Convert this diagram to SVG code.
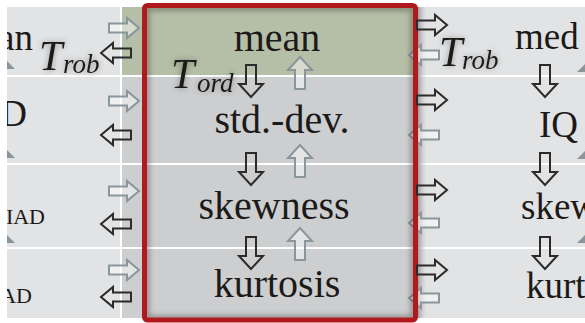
<svg xmlns="http://www.w3.org/2000/svg" xmlns:xlink="http://www.w3.org/1999/xlink" width="585" height="323" viewBox="0 0 585 323">
<style>
.t{font-family:"Liberation Serif","Times New Roman",serif;fill:#1c1a18}
.c{font-size:40px;text-anchor:middle}
.side{font-size:37px}
.sm{font-size:22px}
.it{font-style:italic}
.dk{fill:none;stroke:#2b2b2b;stroke-width:2;stroke-linejoin:miter}
.gy{fill:rgba(255,255,255,0.45);stroke:#8b959c;stroke-width:2;stroke-linejoin:miter}
.pl{fill:#e2e3e5}
.pg{fill:#cdced0}
.pgr{fill:#b5bea6}
.tri{fill:#8b959c}
</style>
<defs>
<path id="aR" d="M0,-4.5 H18 V-10 L30,0 L18,10 V4.5 H0 Z"/>
<path id="aL" d="M30,-4.5 H12 V-10 L0,0 L12,10 V4.5 H30 Z"/>
<path id="aD" d="M-5,0 H5 V19 H12 L0,32 L-12,19 H-5 Z"/>
<path id="aU" d="M-5,32 H5 V13 H12 L0,0 L-12,13 H-5 Z"/>
<clipPath id="leftClip"><rect x="7" y="0" width="113" height="323"/></clipPath>
<clipPath id="boxClip"><rect x="147" y="8" width="266" height="310"/></clipPath>
<linearGradient id="shR" x1="0" y1="0" x2="1" y2="0">
<stop offset="0" stop-color="#8f9092"/><stop offset="1" stop-color="#e2e3e5" stop-opacity="0"/>
</linearGradient>
<filter id="glow" x="-30%" y="-30%" width="160%" height="160%">
<feGaussianBlur in="SourceAlpha" stdDeviation="3"/>
<feComponentTransfer><feFuncA type="linear" slope="0.35"/></feComponentTransfer>
<feMerge><feMergeNode/><feMergeNode in="SourceGraphic"/></feMerge>
</filter>
<filter id="blur2"><feGaussianBlur stdDeviation="2.5"/></filter>
</defs>

<g id="background">
<rect width="585" height="323" fill="#ffffff"/>
<rect class="pl" x="7" y="7" width="113" height="68"/>
<rect class="pl" x="7" y="77" width="113" height="86"/>
<rect class="pl" x="7" y="165" width="113" height="82"/>
<rect class="pl" x="7" y="249" width="113" height="69"/>
<rect class="pgr" x="122" y="7" width="296" height="68"/>
<rect class="pg" x="122" y="77" width="296" height="86"/>
<rect class="pg" x="122" y="165" width="296" height="82"/>
<rect class="pg" x="122" y="249" width="296" height="69"/>
<rect class="pl" x="418" y="7" width="167" height="68"/>
<rect class="pl" x="418" y="77" width="167" height="86"/>
<rect class="pl" x="418" y="165" width="167" height="82"/>
<rect class="pl" x="418" y="249" width="167" height="69"/>
<rect x="417" y="7" width="11" height="311" fill="url(#shR)"/>
</g>

<g id="left-column" clip-path="url(#leftClip)">
<text class="t side" x="33" y="50" text-anchor="end">an</text>
<text class="t side" x="27" y="126" text-anchor="end">D</text>
<text class="t sm" x="45" y="224" text-anchor="end">IAD</text>
<text class="t sm" x="32" y="303" text-anchor="end">AD</text>
<polygon class="tri" points="5,59 15,69 5,69"/>
<polygon class="tri" points="5,148 15,158 5,158"/>
<polygon class="tri" points="5,233 15,243 5,243"/>
</g>

<g id="right-column">
<text class="t side" x="515" y="49">med</text>
<text class="t side" x="539" y="137">IQ</text>
<text class="t side" x="521" y="219">skew</text>
<text class="t side" x="526" y="298">kurt</text>
<polygon class="tri" points="587,62 577,72 587,72"/>
<polygon class="tri" points="587,149 577,159 587,159"/>
<polygon class="tri" points="587,233 577,243 587,243"/>
</g>

<g id="connectors">
<use xlink:href="#aR" class="gy" x="109" y="28"/>
<use xlink:href="#aR" class="gy" x="109" y="101"/>
<use xlink:href="#aR" class="gy" x="109" y="191"/>
<use xlink:href="#aR" class="gy" x="109" y="270"/>
<use xlink:href="#aL" class="dk" x="101" y="53"/>
<use xlink:href="#aL" class="dk" x="101" y="135"/>
<use xlink:href="#aL" class="dk" x="101" y="224"/>
<use xlink:href="#aL" class="dk" x="101" y="297"/>
<use xlink:href="#aD" class="dk" x="251" y="65"/>
<use xlink:href="#aD" class="dk" x="251" y="153"/>
<use xlink:href="#aD" class="dk" x="251" y="237"/>
<use xlink:href="#aU" class="gy" x="300" y="57"/>
<use xlink:href="#aU" class="gy" x="300" y="145"/>
<use xlink:href="#aU" class="gy" x="300" y="228"/>
<use xlink:href="#aL" class="gy" x="409" y="55"/>
<use xlink:href="#aL" class="gy" x="409" y="135"/>
<use xlink:href="#aL" class="gy" x="409" y="223"/>
<use xlink:href="#aL" class="gy" x="409" y="298"/>
<use xlink:href="#aD" class="dk" x="545" y="65"/>
<use xlink:href="#aD" class="dk" x="545" y="153"/>
<use xlink:href="#aD" class="dk" x="545" y="237"/>
</g>

<g id="box">
<g clip-path="url(#boxClip)">
<rect x="147" y="8" width="266" height="310" fill="none" stroke="#000" stroke-opacity="0.28" stroke-width="6" filter="url(#blur2)"/>
</g>
<rect x="144.5" y="5.5" width="271" height="314.5" rx="3" fill="none" stroke="#b01a1c" stroke-width="5"/>
</g>

<g id="connectors-right">
<use xlink:href="#aR" class="dk" x="417" y="25"/>
<use xlink:href="#aR" class="dk" x="417" y="100"/>
<use xlink:href="#aR" class="dk" x="417" y="190"/>
<use xlink:href="#aR" class="dk" x="417" y="270"/>
</g>

<g id="node-mean"><text class="t c" x="277" y="51">mean</text></g>
<g id="node-std"><text class="t c" x="282" y="133">std.-dev.</text></g>
<g id="node-skewness"><text class="t c" x="274" y="219">skewness</text></g>
<g id="node-kurtosis"><text class="t c" x="277" y="297">kurtosis</text></g>

<g id="label-trob-left" filter="url(#glow)">
<text class="t it" x="39" y="70" font-size="42">T</text>
<text class="t it" x="63" y="73" font-size="27">rob</text>
</g>
<g id="label-tord" filter="url(#glow)">
<text class="t it" x="171" y="88" font-size="42">T</text>
<text class="t it" x="197" y="92" font-size="27">ord</text>
</g>
<g id="label-trob-right" filter="url(#glow)">
<text class="t it" x="439" y="66" font-size="42">T</text>
<text class="t it" x="462" y="69" font-size="27">rob</text>
</g>
</svg>
